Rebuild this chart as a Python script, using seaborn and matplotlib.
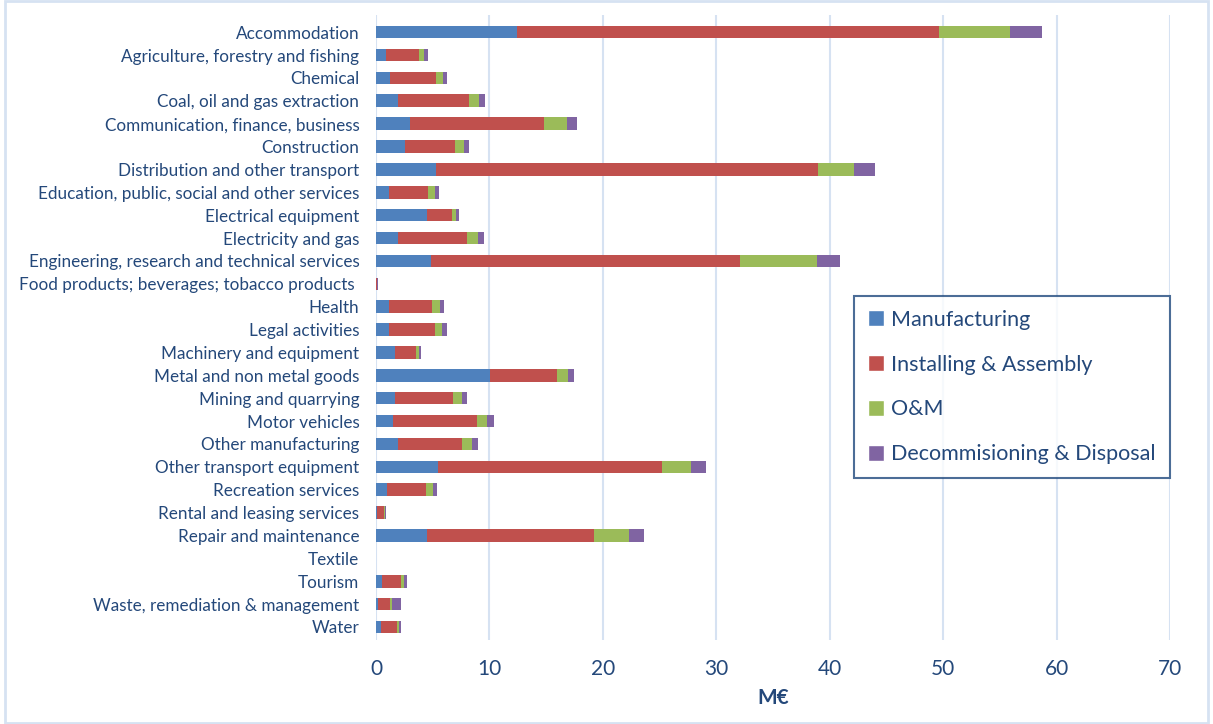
import numpy as np
import pandas as pd
import seaborn as sns
import matplotlib.pyplot as plt
from matplotlib.patches import Patch, Rectangle

sectors = [
    "Accommodation",
    "Agriculture, forestry and fishing",
    "Chemical",
    "Coal, oil and gas extraction",
    "Communication, finance, business",
    "Construction",
    "Distribution and other transport",
    "Education, public, social and other services",
    "Electrical equipment",
    "Electricity and gas",
    "Engineering, research and technical services",
    "Food products; beverages; tobacco products ",
    "Health",
    "Legal activities",
    "Machinery and equipment",
    "Metal and non metal goods",
    "Mining and quarrying",
    "Motor vehicles",
    "Other manufacturing",
    "Other transport equipment",
    "Recreation services",
    "Rental and leasing services",
    "Repair and maintenance",
    "Textile",
    "Tourism",
    "Waste, remediation & management",
    "Water",
]

manufacturing = [12.4, 0.87, 1.26, 1.93, 3.0, 2.52, 5.28, 1.18, 4.49, 1.93, 4.85, 0.03,
                 1.18, 1.18, 1.66, 10.05, 1.66, 1.54, 1.93, 5.44, 0.99, 0.05, 4.49, 0.0,
                 0.55, 0.2, 0.43]
installing = [37.2, 2.91, 4.02, 6.27, 11.82, 4.42, 33.72, 3.39, 2.21, 6.07, 27.25, 0.05,
              3.75, 4.02, 1.84, 5.91, 5.12, 7.36, 5.64, 19.76, 3.39, 0.62, 14.71, 0.0,
              1.62, 1.02, 1.38]
om = [6.25, 0.44, 0.63, 0.87, 2.01, 0.83, 3.1, 0.63, 0.36, 0.99, 6.8, 0.04,
      0.71, 0.6, 0.28, 0.99, 0.79, 0.88, 0.86, 2.6, 0.62, 0.12, 3.1, 0.0,
      0.27, 0.16, 0.19]
decommissioning = [2.85, 0.35, 0.32, 0.55, 0.91, 0.43, 1.85, 0.36, 0.24, 0.51, 1.97, 0.08,
                   0.36, 0.43, 0.16, 0.51, 0.43, 0.62, 0.56, 1.3, 0.36, 0.11, 1.3, 0.0,
                   0.28, 0.79, 0.17]

phases = ["Manufacturing", "Installing & Assembly", "O&M", "Decommisioning & Disposal"]
colors = ["#4F81BD", "#C0504D", "#9BBB59", "#8064A2"]
text_color = "#24487A"

df = pd.DataFrame({
    "sector": sectors,
    phases[0]: manufacturing,
    phases[1]: installing,
    phases[2]: om,
    phases[3]: decommissioning,
})
cum = df[phases].cumsum(axis=1)

sns.set_style("white")
plt.rcParams["font.family"] = ["Lato", "DejaVu Sans"]

fig = plt.figure(figsize=(12.13, 7.24), dpi=100)
ax = fig.add_axes([0.31, 0.116, 0.6546, 0.863])

# stacked bars: draw the running totals from the longest down
for phase, color in reversed(list(zip(phases, colors))):
    sns.barplot(x=cum[phase], y=df["sector"], orient="h", color=color,
                width=0.55, saturation=1, linewidth=0, ax=ax, zorder=3)

ax.set_xlim(0, 70)
ax.set_xticks(range(0, 71, 10))
ax.set_ylim(26.57, -0.74)
ax.grid(axis="x", color="#D6E2F2", linewidth=1.5, zorder=0)
ax.grid(axis="y", visible=False)
for s in ax.spines.values():
    s.set_visible(False)
ax.tick_params(axis="both", length=0, colors=text_color)
ax.tick_params(axis="x", labelsize=15, pad=14)
ax.tick_params(axis="y", labelsize=12.3, pad=12)
ax.set_ylabel("")
ax.set_xlabel("M€", fontsize=15, fontweight="bold", color=text_color, labelpad=6)

handles = [Patch(facecolor=c, label=p) for p, c in zip(phases, colors)]
leg = ax.legend(handles=handles, loc="upper left", bbox_to_anchor=(0.588, 0.568),
                fontsize=15.5, frameon=True, fancybox=False, labelspacing=1.15,
                handlelength=0.75, handleheight=0.75, handletextpad=0.35,
                borderpad=0.65, labelcolor=text_color)
leg.get_frame().set_edgecolor("#1F497D")
leg.get_frame().set_linewidth(1.5)

fig.patches.append(Rectangle((0.004, 0.002), 0.992, 0.996, transform=fig.transFigure,
                             fill=False, edgecolor="#D6E2F2", linewidth=2))

fig.savefig("out.png", dpi=100)
